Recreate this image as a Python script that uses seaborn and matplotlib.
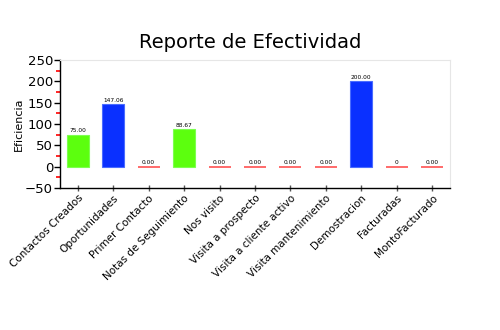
import matplotlib
matplotlib.use("Agg")
import matplotlib.pyplot as plt
import seaborn as sns
import pandas as pd
from matplotlib.ticker import MultipleLocator, FixedLocator

categories = ["Contactos Creados", "Oportunidades", "Primer Contacto", "Notas de Seguimiento",
              "Nos visito", "Visita a prospecto", "Visita a cliente activo", "Visita mantenimiento",
              "Demostracion", "Facturadas", "MontoFacturado"]
values = [75.00, 147.06, 0.00, 88.67, 0.00, 0.00, 0.00, 0.00, 200.00, 0, 0.00]
labels = ["75.00", "147.06", "0.00", "88.67", "0.00", "0.00", "0.00", "0.00", "200.00", "0", "0.00"]
kinds = ["g", "b", "r", "g", "r", "r", "r", "r", "b", "r", "r"]

colmap = {"g": "#5cff0e", "b": "#0a30ff", "r": "#ff6a6a"}
df = pd.DataFrame({"cat": categories, "val": values, "kind": kinds})

sns.set_style("white")
plt.rcParams['font.family'] = ['DejaVu Sans']
plt.rcParams['text.color'] = 'black'
plt.rcParams['xtick.color'] = 'black'
plt.rcParams['ytick.color'] = 'black'
plt.rcParams['axes.labelcolor'] = 'black'

fig = plt.figure(figsize=(5, 3.3), dpi=100)
ax = fig.add_axes([0.12, 0.43, 0.78, 0.388])

palette = [colmap[k] for k in kinds]
sns.barplot(data=df, x="cat", y="val", hue="cat", palette=palette, legend=False,
            width=0.62, ax=ax, saturation=1)
for patch, k in zip(ax.patches, kinds):
    patch.set_edgecolor(colmap[k] if k == "r" else "#4a6cff" if k == "b" else "#7dff50")
    patch.set_linewidth(1.4 if k == "r" else 0.8)

for i, (v, lab) in enumerate(zip(values, labels)):
    ax.text(i, v + 3, lab, ha="center", va="bottom", fontsize=4.2)

ax.set_ylim(-50, 250)
ax.set_xlim(-0.5, 10.5)
ax.yaxis.set_major_locator(MultipleLocator(50))
ax.yaxis.set_minor_locator(FixedLocator([-25, 25, 75, 125, 175, 225]))
ax.tick_params(axis="y", which="major", left=True, length=4, width=1, color="black", labelsize=9.5, pad=1)
ax.tick_params(axis="y", which="minor", left=True, length=3, color="red", width=1.2)
ax.tick_params(axis="x", which="major", bottom=True, length=5, width=1, direction="inout",
               color="#555555", labelsize=7.5, pad=1)
ax.set_xlabel("")
ax.set_ylabel("Eficiencia", fontsize=8, labelpad=1)
plt.setp(ax.get_xticklabels(), rotation=45, ha="right", rotation_mode="anchor")

for s in ["top", "right"]:
    ax.spines[s].set_color("#e6e6e6")
for s in ["left", "bottom"]:
    ax.spines[s].set_color("black")
    ax.spines[s].set_linewidth(1)

fig.text(0.5, 0.87, "Reporte de Efectividad", ha="center", va="center", fontsize=14)

fig.savefig("out.png", dpi=100)
